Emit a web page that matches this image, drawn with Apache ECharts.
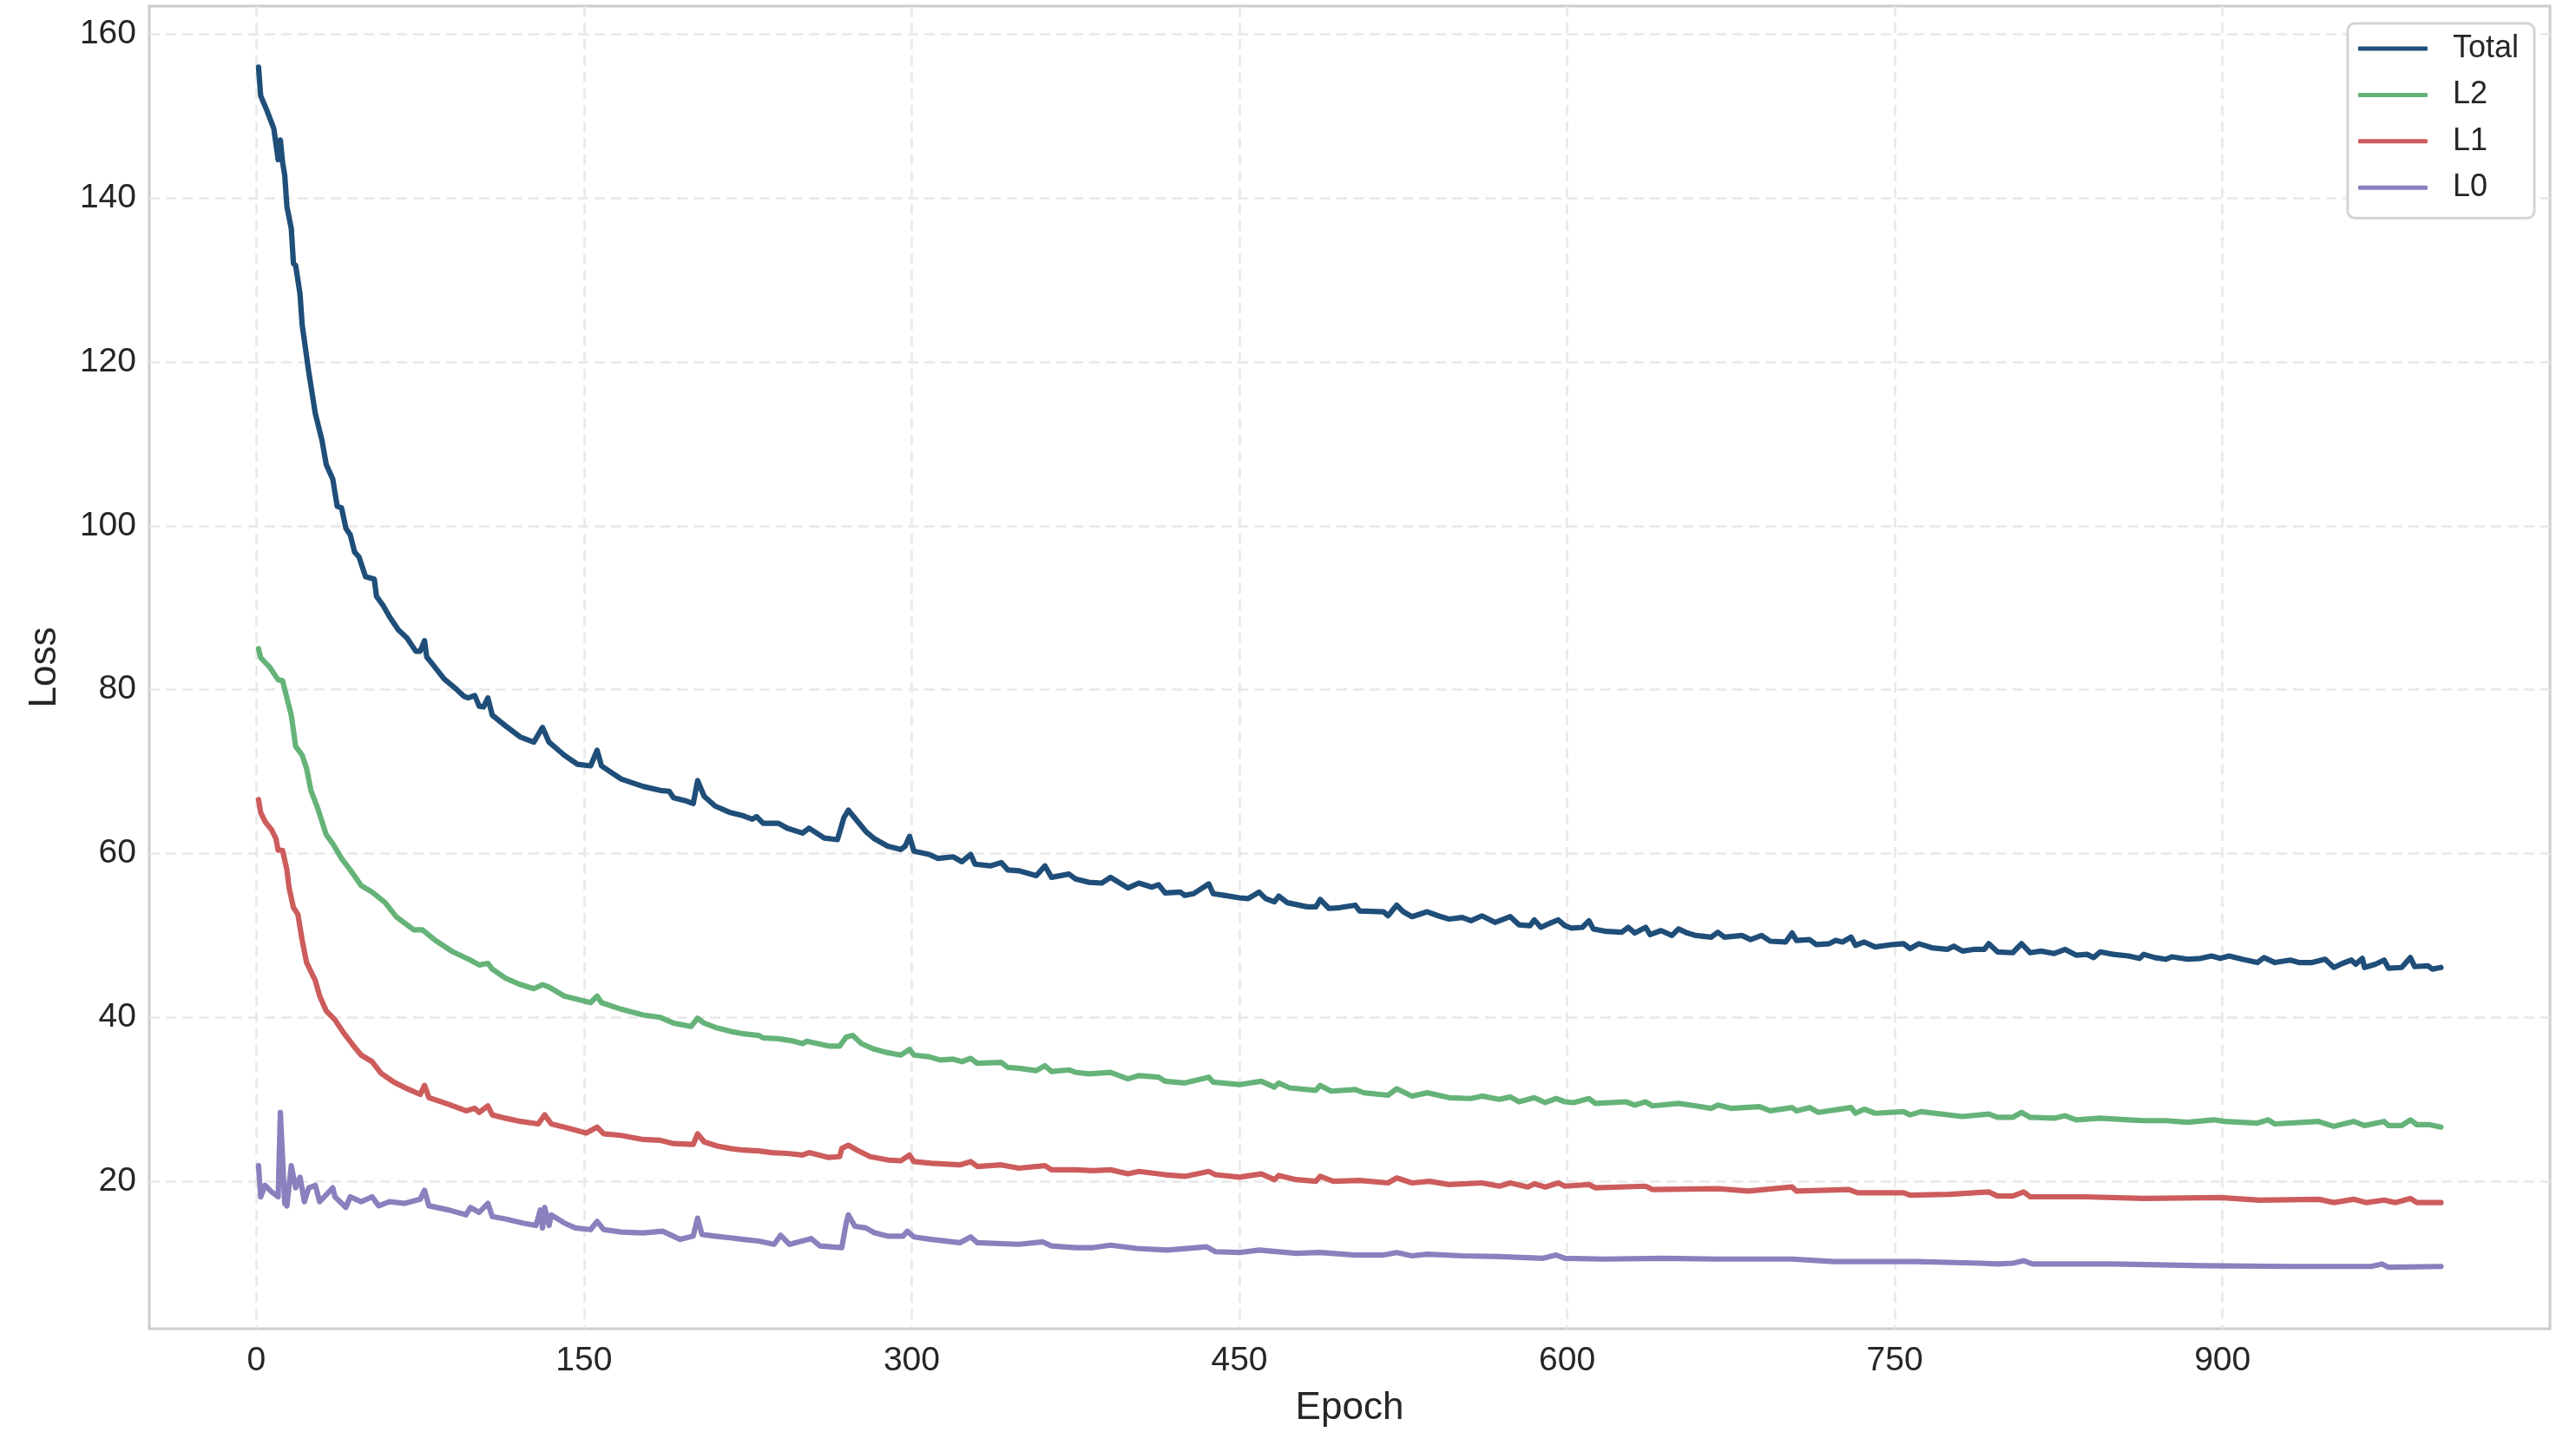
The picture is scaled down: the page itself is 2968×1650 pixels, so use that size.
<!DOCTYPE html>
<html>
<head>
<meta charset="utf-8">
<script src="https://cdn.jsdelivr.net/npm/echarts@6/dist/echarts.min.js"></script>
<style>
  html, body { margin: 0; padding: 0; background: #ffffff; }
  #chart { width: 2968px; height: 1650px; }
</style>
</head>
<body>
<div id="chart"></div>
<script>
const seriesNames = ['Total', 'L2', 'L1', 'L0'];
const xTickValues = [0, 150, 300, 450, 600, 750, 900];
const yTickValues = [20, 40, 60, 80, 100, 120, 140, 160];

const totalLoss = [[1,156.0],[2,152.5],[5,150.6],[8,148.5],[10,144.7],[11,147.1],[12,144.4],[13,142.8],[14,139.0],[16,136.3],[17,132.0],[18,131.8],[20,128.3],[21,124.5],[24,118.8],[27,113.7],[30,110.5],[32,107.5],[35,105.7],[37,102.4],[39,102.2],[41,99.7],[43,98.9],[45,96.8],[47,96.2],[50,93.8],[54,93.5],[55,91.4],[58,90.3],[61,88.9],[65,87.3],[69,86.3],[73,84.7],[75,84.7],[77,86.0],[78,84.0],[81,83.0],[86,81.3],[91,80.2],[95,79.2],[97,79.0],[100,79.3],[102,78.0],[104,77.9],[106,79.0],[108,76.9],[114,75.6],[121,74.2],[127,73.6],[131,75.4],[134,73.6],[141,72.0],[147,70.9],[153,70.7],[156,72.6],[158,70.7],[167,69.1],[177,68.2],[185,67.7],[189,67.6],[191,66.8],[197,66.4],[200,66.1],[202,68.9],[205,67.0],[210,65.8],[217,65.0],[223,64.6],[227,64.2],[229,64.5],[232,63.7],[239,63.7],[243,63.1],[250,62.5],[253,63.1],[260,61.9],[266,61.7],[269,64.4],[271,65.3],[275,64.0],[279,62.7],[283,61.8],[289,60.9],[295,60.5],[297,60.9],[299,62.1],[301,60.3],[308,59.9],[312,59.4],[319,59.6],[323,59.0],[327,59.9],[329,58.7],[336,58.5],[341,58.9],[344,58.0],[349,57.9],[357,57.3],[361,58.5],[364,57.1],[372,57.5],[375,56.9],[381,56.5],[387,56.4],[391,57.1],[399,55.8],[404,56.4],[410,55.9],[413,56.2],[416,55.2],[423,55.3],[425,54.9],[429,55.1],[436,56.3],[438,55.1],[443,54.9],[450,54.6],[454,54.5],[459,55.3],[462,54.5],[466,54.1],[468,54.8],[472,54.0],[481,53.5],[485,53.5],[487,54.4],[491,53.3],[496,53.4],[503,53.7],[505,53.0],[516,52.9],[518,52.4],[522,53.7],[525,52.9],[529,52.3],[536,52.9],[541,52.4],[546,52.0],[552,52.2],[556,51.8],[561,52.4],[567,51.6],[574,52.3],[578,51.3],[583,51.2],[585,51.9],[588,51.0],[593,51.6],[596,51.9],[599,51.2],[602,50.9],[607,51.0],[610,51.8],[612,50.8],[618,50.5],[625,50.4],[628,51.0],[631,50.3],[636,51.0],[638,50.1],[643,50.6],[648,50.0],[651,50.8],[655,50.3],[659,50.0],[666,49.8],[669,50.4],[672,49.8],[680,50.0],[684,49.5],[689,50.0],[693,49.3],[700,49.2],[703,50.3],[705,49.4],[711,49.5],[714,48.9],[720,49.0],[723,49.4],[726,49.2],[730,49.8],[732,48.8],[736,49.2],[741,48.6],[749,48.9],[754,49.0],[757,48.4],[761,49.0],[767,48.5],[774,48.3],[777,48.7],[781,48.1],[786,48.3],[791,48.3],[793,49.0],[797,48.0],[804,47.9],[808,49.0],[812,47.9],[817,48.1],[823,47.8],[828,48.3],[833,47.6],[838,47.7],[841,47.3],[844,48.0],[850,47.7],[857,47.5],[862,47.2],[864,47.7],[869,47.3],[874,47.1],[877,47.4],[884,47.1],[890,47.2],[895,47.5],[899,47.2],[903,47.5],[909,47.1],[916,46.7],[919,47.3],[924,46.7],[931,47.0],[935,46.7],[941,46.7],[947,47.1],[951,46.1],[955,46.6],[959,47.0],[961,46.5],[964,47.2],[965,46.1],[970,46.5],[974,47.0],[976,46.0],[982,46.1],[986,47.3],[988,46.2],[994,46.3],[996,45.9],[1000,46.1]];

const l2Loss = [[1,85.0],[2,83.9],[6,82.8],[10,81.2],[12,81.1],[14,79.0],[16,76.9],[18,73.1],[21,72.0],[23,70.4],[25,67.7],[28,65.6],[32,62.3],[35,61.2],[39,59.4],[43,58.0],[48,56.1],[53,55.3],[59,54.0],[64,52.3],[72,50.7],[76,50.7],[82,49.4],[90,48.0],[98,47.0],[102,46.4],[106,46.6],[108,45.9],[114,44.8],[121,44.0],[127,43.5],[131,44.0],[134,43.7],[141,42.6],[153,41.8],[156,42.6],[158,41.8],[167,41.0],[177,40.3],[185,40.0],[191,39.3],[199,38.9],[202,39.9],[205,39.3],[211,38.7],[217,38.3],[223,38.0],[230,37.8],[232,37.5],[239,37.4],[246,37.1],[250,36.8],[252,37.1],[262,36.5],[267,36.5],[270,37.6],[273,37.8],[277,36.8],[283,36.1],[289,35.7],[295,35.4],[299,36.1],[301,35.4],[308,35.2],[313,34.8],[319,34.9],[323,34.6],[327,35.0],[330,34.4],[341,34.5],[344,33.9],[349,33.8],[357,33.5],[361,34.1],[364,33.4],[372,33.6],[375,33.3],[381,33.1],[391,33.3],[399,32.5],[404,32.9],[413,32.7],[416,32.2],[425,32.0],[436,32.7],[438,32.1],[450,31.8],[460,32.2],[466,31.5],[468,32.0],[473,31.4],[485,31.1],[487,31.7],[492,31.0],[503,31.2],[507,30.8],[518,30.5],[522,31.3],[529,30.4],[536,30.8],[546,30.2],[556,30.1],[561,30.4],[569,30.0],[574,30.3],[578,29.7],[585,30.2],[590,29.6],[595,30.1],[599,29.7],[603,29.6],[610,30.1],[613,29.5],[627,29.7],[631,29.3],[636,29.7],[639,29.2],[651,29.5],[659,29.2],[666,28.9],[669,29.3],[675,28.9],[688,29.1],[693,28.6],[703,29.0],[705,28.6],[711,29.0],[715,28.4],[730,29.0],[732,28.3],[736,28.8],[741,28.3],[754,28.5],[757,28.1],[762,28.5],[781,27.9],[793,28.2],[797,27.8],[804,27.8],[808,28.4],[812,27.8],[823,27.7],[828,28.0],[833,27.5],[844,27.7],[857,27.5],[864,27.4],[874,27.4],[884,27.2],[896,27.5],[901,27.3],[916,27.1],[921,27.5],[924,27.0],[944,27.3],[951,26.7],[960,27.3],[965,26.8],[974,27.3],[976,26.8],[982,26.8],[986,27.5],[989,26.9],[995,26.9],[1000,26.6]];

const l1Loss = [[1,66.6],[2,65.0],[4,63.9],[7,62.9],[9,61.8],[10,60.4],[12,60.4],[14,58.0],[15,55.8],[17,53.4],[19,52.6],[21,49.4],[23,46.7],[25,45.6],[27,44.5],[29,42.6],[32,40.8],[36,39.7],[40,38.1],[44,36.7],[48,35.4],[53,34.6],[57,33.2],[63,32.1],[69,31.3],[75,30.6],[77,31.7],[79,30.2],[88,29.4],[96,28.6],[100,28.9],[102,28.4],[106,29.2],[108,28.1],[114,27.7],[121,27.3],[129,27.0],[132,28.1],[135,27.0],[141,26.6],[151,25.9],[156,26.6],[159,25.8],[167,25.6],[177,25.1],[185,25.0],[191,24.6],[200,24.5],[202,25.8],[205,24.8],[211,24.3],[217,24.0],[223,23.8],[230,23.7],[236,23.5],[243,23.4],[250,23.2],[253,23.5],[262,22.9],[267,23.0],[268,24.0],[271,24.4],[275,23.8],[281,23.0],[289,22.6],[295,22.5],[299,23.2],[301,22.4],[309,22.2],[322,22.0],[327,22.4],[330,21.8],[341,22.0],[349,21.6],[361,21.9],[364,21.4],[375,21.4],[383,21.3],[391,21.4],[399,20.9],[404,21.2],[416,20.8],[425,20.6],[436,21.2],[439,20.8],[450,20.5],[460,20.9],[466,20.2],[468,20.7],[476,20.2],[485,20.0],[487,20.6],[493,20.0],[505,20.1],[518,19.8],[522,20.4],[529,19.8],[537,20.0],[546,19.6],[561,19.8],[569,19.4],[574,19.8],[582,19.3],[585,19.7],[590,19.3],[596,19.8],[599,19.4],[610,19.6],[613,19.2],[636,19.4],[639,19.0],[669,19.1],[683,18.8],[703,19.3],[705,18.8],[729,19.0],[733,18.6],[754,18.6],[757,18.3],[775,18.4],[793,18.7],[797,18.2],[804,18.2],[809,18.7],[812,18.1],[837,18.1],[864,17.9],[899,18.0],[917,17.7],[944,17.8],[951,17.4],[960,17.8],[966,17.4],[974,17.7],[979,17.4],[986,17.9],[989,17.4],[1000,17.4]];

const l0Loss = [[1,21.9],[2,18.1],[4,19.5],[7,18.7],[10,18.1],[11,28.4],[13,17.3],[14,17.0],[16,21.9],[18,19.2],[20,20.5],[22,17.5],[24,19.2],[27,19.5],[29,17.5],[35,19.2],[36,18.1],[41,16.8],[43,18.1],[48,17.5],[53,18.1],[56,17.0],[61,17.5],[68,17.3],[75,17.8],[77,18.9],[79,17.0],[88,16.5],[96,15.9],[98,16.8],[102,16.2],[106,17.3],[108,15.7],[114,15.4],[122,14.9],[128,14.6],[130,16.5],[131,14.3],[132,16.8],[134,14.6],[135,15.9],[141,14.9],[146,14.3],[153,14.1],[156,15.1],[159,14.1],[167,13.8],[177,13.7],[186,13.9],[194,12.9],[200,13.3],[202,15.5],[204,13.5],[210,13.3],[217,13.1],[223,12.9],[230,12.7],[237,12.3],[240,13.4],[244,12.3],[254,13.0],[258,12.1],[268,11.9],[270,14.9],[271,15.9],[274,14.5],[279,14.3],[283,13.7],[289,13.3],[296,13.3],[298,13.9],[301,13.2],[309,12.9],[322,12.5],[327,13.2],[330,12.5],[349,12.3],[360,12.6],[364,12.1],[375,11.9],[383,11.9],[391,12.2],[403,11.8],[417,11.6],[435,12.0],[439,11.4],[450,11.3],[459,11.6],[476,11.2],[487,11.3],[503,11.0],[516,11.0],[522,11.3],[529,10.9],[536,11.1],[552,10.9],[569,10.8],[589,10.6],[595,11.0],[599,10.6],[617,10.5],[644,10.6],[669,10.5],[703,10.5],[722,10.2],[760,10.2],[789,10.0],[797,9.9],[804,10.0],[809,10.3],[813,9.9],[850,9.9],[891,9.7],[931,9.6],[968,9.6],[973,9.9],[976,9.5],[1000,9.6]];

const seriesData = [totalLoss, l2Loss, l1Loss, l0Loss];
const seriesColors = ['#1f4e79', '#66b37a', '#cd5c5c', '#8c7fbd'];

const FONT = '"Liberation Sans", Arial, sans-serif';
const TEXT = '#262626';

const chart = echarts.init(document.getElementById('chart'), null, { renderer: 'canvas' });

const option = {
  animation: false,
  backgroundColor: '#ffffff',
  grid: {
    left: 172, top: 7, width: 2766, height: 1530,
    show: true, borderColor: '#cccccc', borderWidth: 3, backgroundColor: '#ffffff'
  },
  legend: {
    data: seriesNames,
    orient: 'vertical',
    right: 48, top: 27,
    icon: 'roundRect',
    itemWidth: 80, itemHeight: 5,
    itemGap: 17.4,
    padding: [11, 18, 17, 12],
    backgroundColor: '#ffffff',
    borderColor: '#d4d4d4', borderWidth: 3, borderRadius: 8,
    textStyle: { fontSize: 36, color: TEXT, fontFamily: FONT, padding: [0, 0, 0, 24] }
  },
  xAxis: {
    type: 'value',
    min: -49, max: 1049.9,
    name: 'Epoch', nameLocation: 'middle', nameGap: 70,
    nameTextStyle: { fontSize: 44, color: TEXT, fontFamily: FONT },
    axisLine: { show: false },
    axisTick: { show: false, customValues: xTickValues },
    axisLabel: { customValues: xTickValues, fontSize: 39, color: TEXT, fontFamily: FONT, margin: 18 },
    splitLine: { show: true, lineStyle: { color: '#e8e8e8', width: 2.5, type: [12, 7] } }
  },
  yAxis: {
    type: 'value',
    min: 2.0, max: 163.45,
    name: 'Loss', nameLocation: 'middle', nameGap: 98,
    nameTextStyle: { fontSize: 44, color: TEXT, fontFamily: FONT },
    axisLine: { show: false },
    axisTick: { show: false, customValues: yTickValues },
    axisLabel: { customValues: yTickValues, fontSize: 39, color: TEXT, fontFamily: FONT, margin: 15 },
    splitLine: { show: true, lineStyle: { color: '#e8e8e8', width: 2.5, type: [12, 7] } }
  },
  series: seriesNames.map((name, i) => ({
    name: name,
    type: 'line',
    data: seriesData[i],
    showSymbol: false,
    symbol: 'none',
    color: seriesColors[i],
    lineStyle: { width: 6.2, color: seriesColors[i], cap: 'round', join: 'round' },
    z: 2 + i
  }))
};

chart.setOption(option);
</script>
</body>
</html>
